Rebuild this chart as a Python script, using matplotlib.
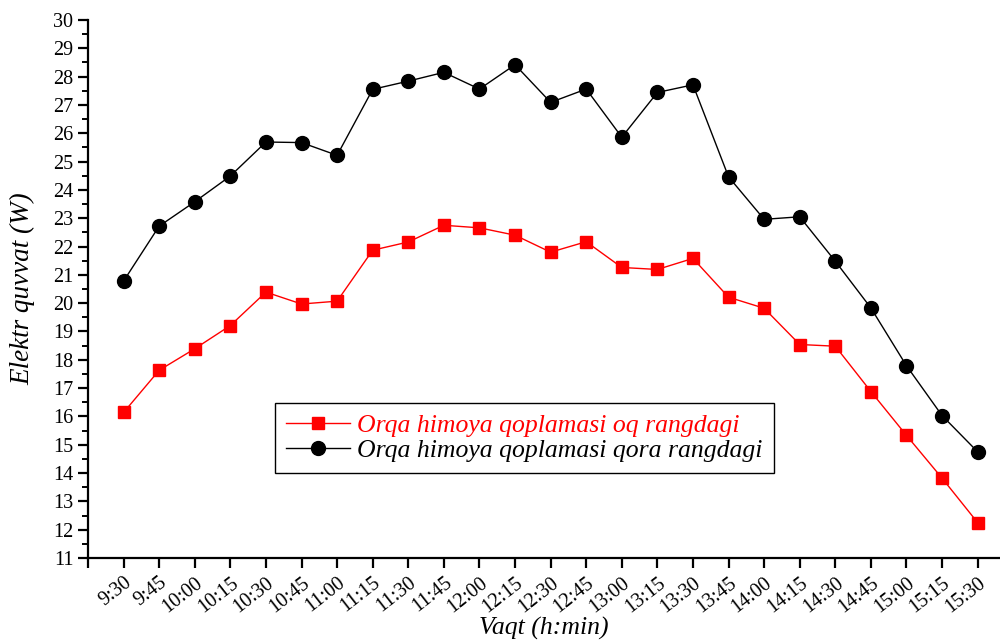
import numpy as np
import matplotlib
matplotlib.use("Agg")
import matplotlib.pyplot as plt
from matplotlib.ticker import MultipleLocator

plt.rcParams['font.family'] = ['Liberation Serif', 'DejaVu Serif']

times = ['9:30', '9:45', '10:00', '10:15', '10:30', '10:45', '11:00', '11:15', '11:30',
         '11:45', '12:00', '12:15', '12:30', '12:45', '13:00', '13:15', '13:30', '13:45',
         '14:00', '14:15', '14:30', '14:45', '15:00', '15:15', '15:30']
white_back = [16.14, 17.63, 18.39, 19.21, 20.39, 19.97, 20.07, 21.87, 22.16, 22.75, 22.66,
              22.40, 21.80, 22.17, 21.26, 21.19, 21.58, 20.21, 19.82, 18.54, 18.48, 16.88,
              15.33, 13.82, 12.25]
black_back = [20.78, 22.72, 23.58, 24.49, 25.69, 25.67, 25.22, 27.55, 27.84, 28.15, 27.56,
              28.42, 27.09, 27.56, 25.86, 27.44, 27.71, 24.46, 22.96, 23.05, 21.48, 19.83,
              17.79, 16.03, 14.75]
labels = ['Orqa himoya qoplamasi oq rangdagi', 'Orqa himoya qoplamasi qora rangdagi']

x = np.arange(1, len(times) + 1)

fig = plt.figure(figsize=(10, 6.44), dpi=100)
ax = fig.add_axes([0.088, 0.1335, 0.911, 0.8355])

ax.plot(x, white_back, color='red', marker='s', markersize=9, linewidth=1, label=labels[0])
ax.plot(x, black_back, color='black', marker='o', markersize=10, linewidth=1, label=labels[1])

ax.set_xlim(0, 25.6)
ax.set_ylim(11, 30)
ax.set_xticks(np.arange(0, len(times) + 1))
ax.set_xticklabels([''] + times, rotation=38, ha='right', rotation_mode='anchor')
ax.yaxis.set_major_locator(MultipleLocator(1))
ax.yaxis.set_minor_locator(MultipleLocator(0.5))

for side in ['top', 'right']:
    ax.spines[side].set_visible(False)
for side in ['left', 'bottom']:
    ax.spines[side].set_linewidth(1.6)
ax.tick_params(axis='both', which='major', direction='out', length=7, width=1.6, labelsize=14.5)
ax.tick_params(axis='x', which='major', pad=4)
ax.tick_params(axis='y', which='minor', direction='out', length=4, width=1.4)

ax.set_xlabel('Vaqt (h:min)', fontsize=18.5, style='italic', labelpad=0)
ax.set_ylabel('Elektr quvvat (W)', fontsize=19.5, style='italic', labelpad=13)

leg = ax.legend(loc='lower left', bbox_to_anchor=(0.205, 0.158), borderaxespad=0,
                fancybox=False, edgecolor='black', framealpha=1, handlelength=2.5,
                handletextpad=0.3, labelspacing=0.1, borderpad=0.42,
                prop={'style': 'italic', 'size': 18.5})
leg.get_frame().set_linewidth(1.0)
leg.get_texts()[0].set_color('red')

fig.savefig('out.png', dpi=100)
